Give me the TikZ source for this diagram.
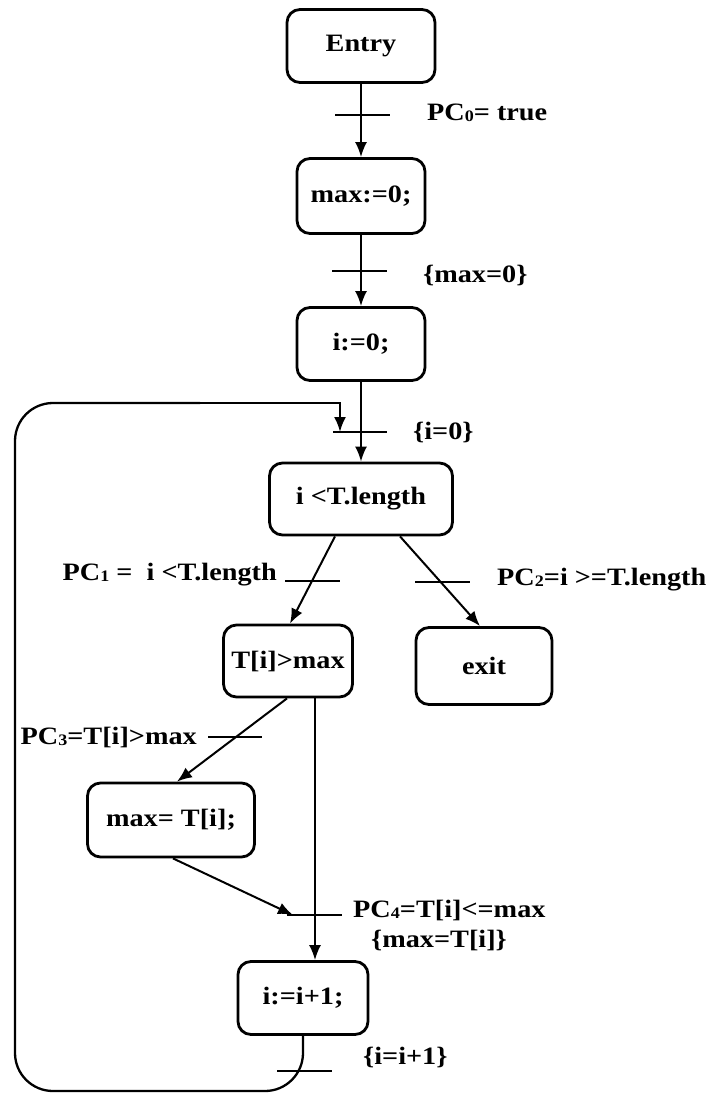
\documentclass[tikz,border=0pt]{standalone}
\usepackage{fontspec}
\setmainfont{Liberation Serif}[FakeStretch=1.13]
\usetikzlibrary{arrows.meta}
\tikzset{
  box/.style={draw, line width=2.8pt, rounded corners=13pt, inner sep=0pt, font=\fontsize{25}{27}\selectfont\bfseries},
  lbl/.style={inner sep=0pt, font=\fontsize{25}{27}\selectfont\bfseries},
  arr/.style={line width=2pt, -{Latex[length=15pt,width=12pt]}},
  tick/.style={line width=2pt},
  loopline/.style={line width=2.3pt}
}
\newcommand{\sbs}[1]{\raisebox{-1pt}{\fontsize{16}{16}\selectfont #1}}
\begin{document}
\begin{tikzpicture}[x=1pt,y=-1pt]
\useasboundingbox (0,0) rectangle (708,1093);
% nodes
\node[box, minimum width=148pt, minimum height=73pt] (entry) at (361,46) {Entry};
\node[box, minimum width=128pt, minimum height=75pt] (m0) at (361,196) {max:=0;};
\node[box, minimum width=128pt, minimum height=73pt] (i0) at (361,344) {i:=0;};
\node[box, minimum width=183pt, minimum height=72pt] (cond) at (361,499) {i <T.length};
\node[box, minimum width=129pt, minimum height=72pt] (tmax) at (288,661) {T[i]>max};
\node[box, minimum width=136pt, minimum height=77pt] (exit) at (484,666) {exit};
\node[box, minimum width=167pt, minimum height=74pt] (mT) at (171,820) {max= T[i];};
\node[box, minimum width=130pt, minimum height=73pt] (inc) at (303,998) {i:=i+1;};
\coordinate (j4) at (293,915);
\coordinate (loopend) at (340,432);
% edges
\draw[arr] (entry) -- (m0);
\draw[arr] (m0) -- (i0);
\draw[arr] (i0) -- (cond);
\draw[arr] ([xshift=-26pt]cond.south) -- ([xshift=2pt]tmax.north);
\draw[arr] ([xshift=39pt]cond.south) -- ([xshift=-4pt]exit.north);
\draw[arr] ([xshift=-1pt]tmax.south) -- ([xshift=6pt]mT.north);
\draw[arr] ([xshift=27pt]tmax.south) -- ([xshift=12pt]inc.north);
\draw[arr] ([xshift=2pt]mT.south) -- (j4);
% loop back
\draw[loopline, rounded corners=38pt] (inc.south) -- (inc.south |- 0,1091) -- (15,1091) -- (15,403) -- (200,403);
\draw[loopline, -{Latex[length=15pt,width=12pt]}] (199,403) -- (340,403) -- (loopend);
% ticks
\draw[tick] (335,115) -- (390,115);
\draw[tick] (332,271) -- (387,271);
\draw[tick] (333,432) -- (387,432);
\draw[tick] (285,581) -- (340,581);
\draw[tick] (415,582) -- (470,582);
\draw[tick] (208,737) -- (262,737);
\draw[tick] (287,915) -- (342,915);
\draw[tick] (277,1071) -- (332,1071);
% labels
\node[lbl, anchor=west] (l0) at (427,113) {PC\sbs{0}= true};
\node[lbl, anchor=west] (l1) at (423,275) {\{max=0\}};
\node[lbl, anchor=west] (l2) at (413,432) {\{i=0\}};
\node[lbl, anchor=east] (l3) at (277,575) {PC\sbs{1} =\ \ i <T.length};
\node[lbl, anchor=west] (l4) at (497,580) {PC\sbs{2}=i >=T.length};
\node[lbl, anchor=east] (l5) at (197,737) {PC\sbs{3}=T[i]>max};
\node[lbl, anchor=west] (l6) at (353,910) {PC\sbs{4}=T[i]<=max};
\node[lbl] (l7) at (439,940) {\{max=T[i]\}};
\node[lbl, anchor=west] (l8) at (363,1057) {\{i=i+1\}};
\end{tikzpicture}
\end{document}
